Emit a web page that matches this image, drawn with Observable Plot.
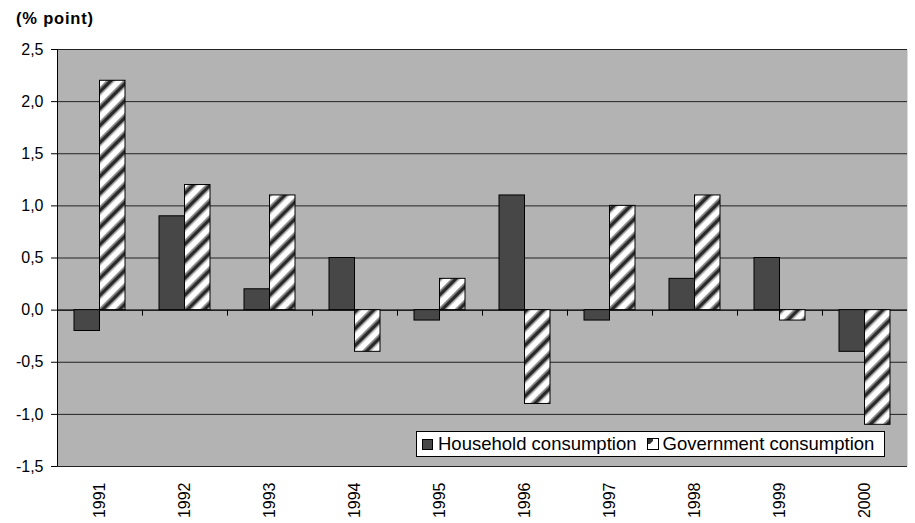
<!DOCTYPE html>
<html>
<head>
<meta charset="utf-8">
<script src="https://cdn.jsdelivr.net/npm/d3@7"></script>
<script src="https://cdn.jsdelivr.net/npm/@observablehq/plot@0.6"></script>
<style>
  html, body { margin: 0; padding: 0; background: #fff; }
  #wrap { position: relative; width: 915px; height: 523px; font-family: Arial, "Liberation Sans", sans-serif; }
  #title { position: absolute; left: 16px; top: 9px; font-weight: bold; font-size: 16.5px; letter-spacing: 0.8px; color: #000; }
  #legend { position: absolute; left: 416px; top: 431px; width: 467px; height: 24px; border: 1px solid #000; background: #fff;
            font-size: 18.5px; display: flex; align-items: center; white-space: nowrap; }
  #legend .sw { display: inline-block; width: 11px; height: 11px; box-sizing: border-box; border: 1px solid #000; margin: 0 5px 0 5px; }
  #legend svg { margin: 0 4px 0 10px; }
</style>
</head>
<body>
<div id="wrap">
  <div id="chart"></div>
  <div id="title">(% point)</div>
  <div id="legend">
    <span class="sw" style="background:#474747"></span><span>Household consumption</span>
    <svg width="12" height="12" viewBox="0 0 12 12"><rect x="0.5" y="0.5" width="11" height="11" fill="#fff" stroke="#000"/><path d="M1 1 H6 V3 L3 6 H1 Z" fill="#333"/></svg><span>Government consumption</span>
  </div>
</div>
<script>
const years = ["1991","1992","1993","1994","1995","1996","1997","1998","1999","2000"];
const household = [-0.2, 0.9, 0.2, 0.5, -0.1, 1.1, -0.1, 0.3, 0.5, -0.4];
const government = [2.2, 1.2, 1.1, -0.4, 0.3, -0.9, 1.0, 1.1, -0.1, -1.1];
const yTicks = [-1.5, -1.0, -0.5, 0.0, 0.5, 1.0, 1.5, 2.0, 2.5];

const hRows = years.map((y, i) => ({idx: i + 1, year: y, value: household[i]}));
const gRows = years.map((y, i) => ({idx: i + 1, year: y, value: government[i]}));
const centers = years.map((_, i) => i + 1);
const bounds = years.slice(1).map((_, i) => i + 1.5);
const fmt = d => d.toFixed(1).replace(".", ",");

const chart = Plot.plot({
  width: 915,
  height: 523,
  marginTop: 49,
  marginRight: 8,
  marginBottom: 57,
  marginLeft: 57,
  style: {fontFamily: "Arial, 'Liberation Sans', sans-serif", fontSize: "16px", color: "#000", background: "transparent"},
  x: {type: "linear", domain: [0.5, 10.5]},
  y: {domain: [-1.5, 2.5]},
  marks: [
    Plot.frame({fill: "#b3b3b3", stroke: null}),
    Plot.gridY(yTicks, {stroke: "#222", strokeOpacity: 1, strokeWidth: 1}),
    Plot.ruleY([0], {stroke: "#000"}),
    Plot.ruleX(bounds, {y1: 0, y2: 0, insetBottom: -6, stroke: "#000"}),
    Plot.rectY(hRows, {x1: d => d.idx - 0.3, x2: d => d.idx, y1: 0, y2: "value", fill: "#474747", stroke: "#000", strokeWidth: 1}),
    Plot.rectY(gRows, {x1: d => d.idx, x2: d => d.idx + 0.3, y1: 0, y2: "value", fill: "url(#hatch)", stroke: "#000", strokeWidth: 1}),
    Plot.ruleX([0.5], {stroke: "#000"}),
    Plot.axisY({ticks: yTicks, tickFormat: fmt, tickSize: 6, tickPadding: 8, label: null, fontSize: 16}),
    Plot.axisX({ticks: centers, tickFormat: i => years[i - 1], tickRotate: -90, tickSize: 0, tickPadding: 16, label: null, fontSize: 16})
  ]
});

const defs = d3.select(chart).insert("defs", ":first-child");
const pat = defs.append("pattern")
  .attr("id", "hatch")
  .attr("patternUnits", "userSpaceOnUse")
  .attr("width", 12).attr("height", 12)
  .attr("patternTransform", "rotate(45)");
pat.append("rect").attr("width", 12).attr("height", 12).attr("fill", "#fff");
pat.append("rect").attr("x", 0).attr("width", 1.5).attr("height", 12).attr("fill", "#999");
pat.append("rect").attr("x", 1.5).attr("width", 3.5).attr("height", 12).attr("fill", "#2a2a2a");
pat.append("rect").attr("x", 5).attr("width", 1.5).attr("height", 12).attr("fill", "#999");

document.getElementById("chart").appendChild(chart);
</script>
</body>
</html>
